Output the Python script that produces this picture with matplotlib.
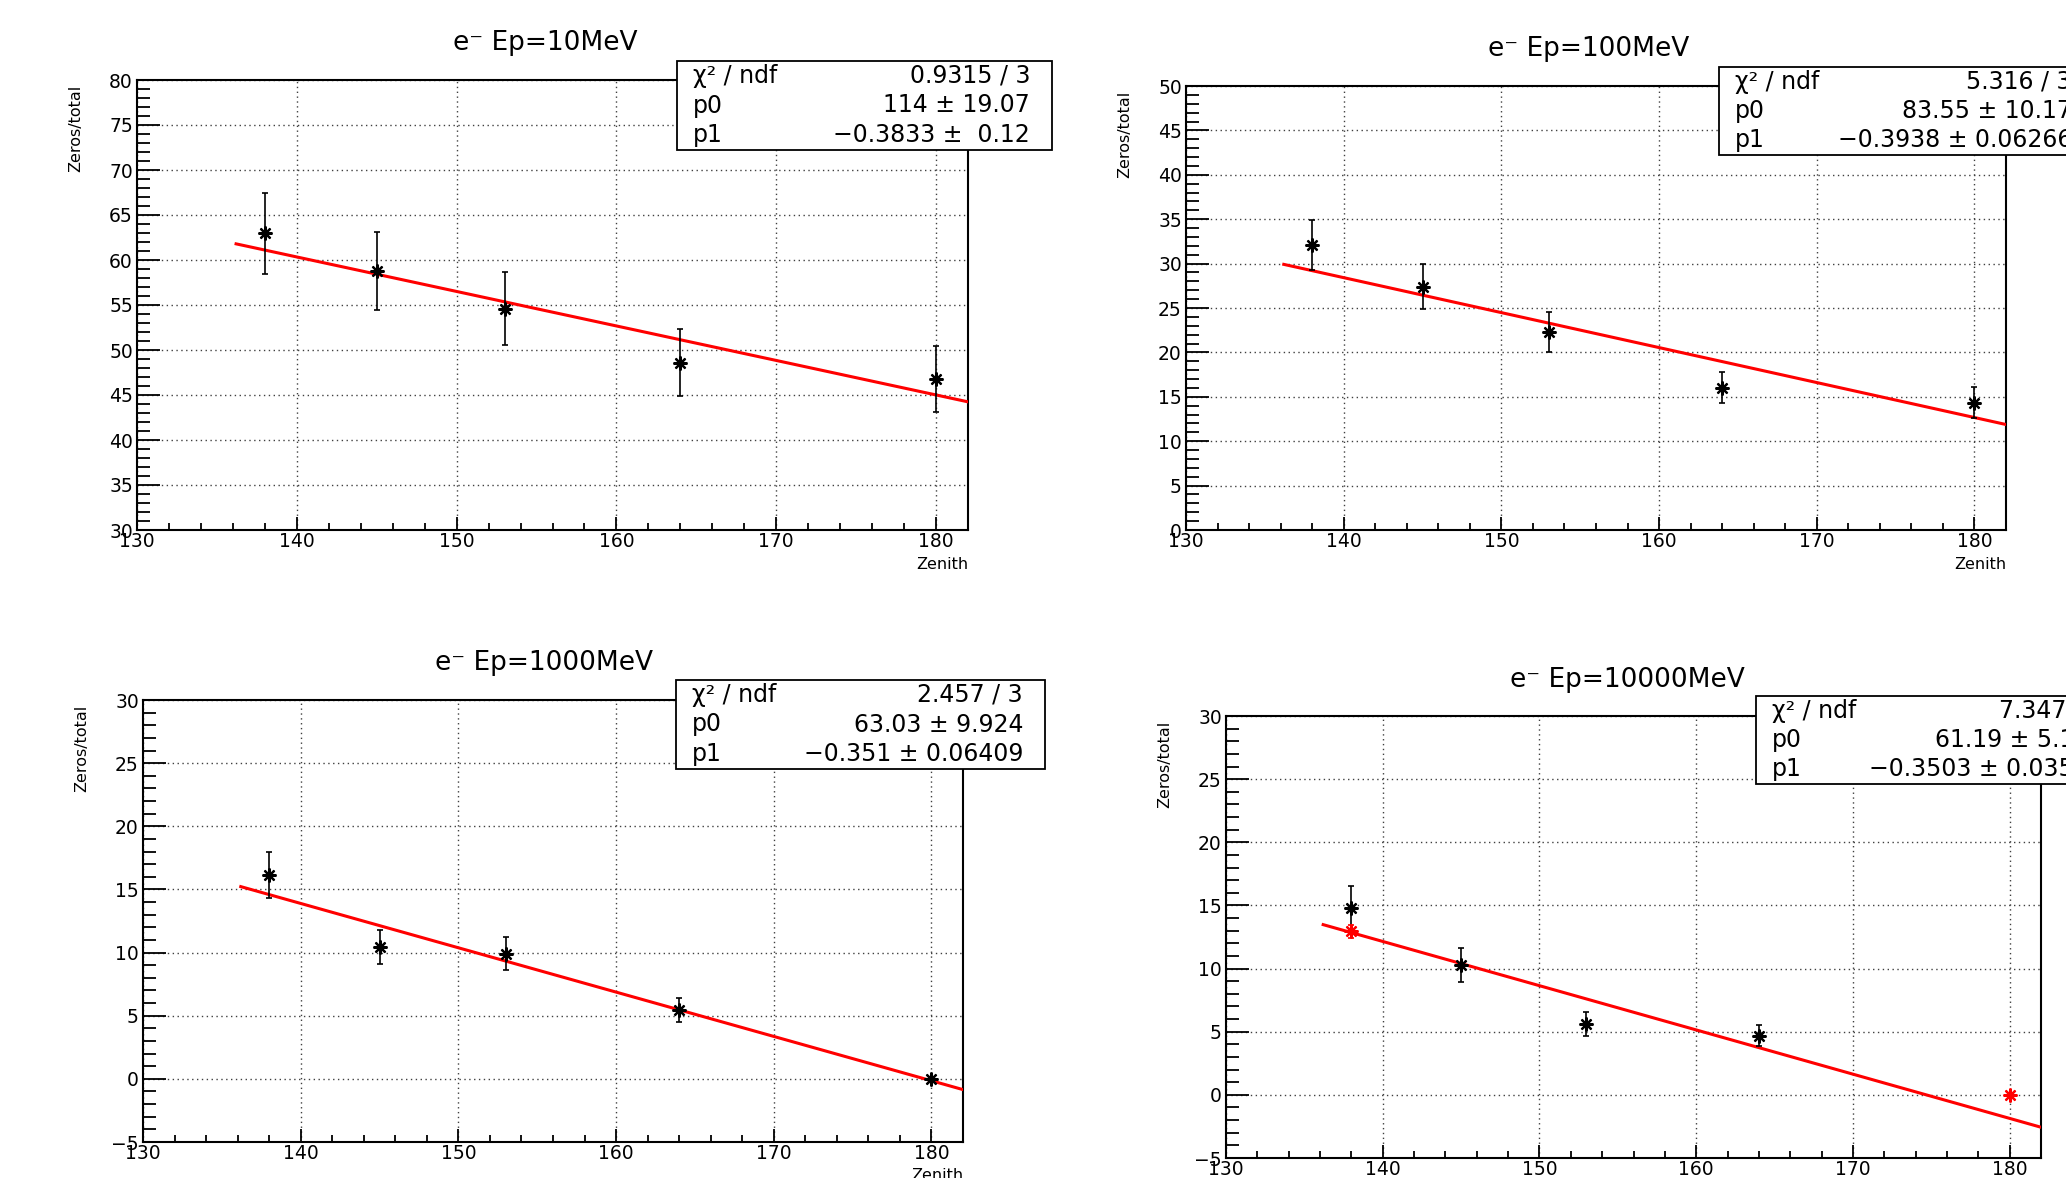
import matplotlib
matplotlib.use("Agg")
import matplotlib.pyplot as plt
from matplotlib.patches import Rectangle
from matplotlib.ticker import MultipleLocator

plt.rcParams['font.family'] = ['DejaVu Sans']

W, H = 2066, 1178

# ---- data ----
zenith = [138, 145, 153, 164, 180]

titles = ['e⁻ Ep=10MeV', 'e⁻ Ep=100MeV', 'e⁻ Ep=1000MeV', 'e⁻ Ep=10000MeV']

y_10 = [63.0, 58.8, 54.6, 48.6, 46.8]
err_10 = [4.5, 4.3, 4.05, 3.7, 3.7]

y_100 = [32.1, 27.4, 22.3, 16.0, 14.35]
err_100 = [2.85, 2.5, 2.2, 1.75, 1.7]

y_1000 = [16.15, 10.45, 9.9, 5.45, 0.0]
err_1000 = [1.8, 1.37, 1.3, 0.95, 0.0]

# 10000 MeV: black points plus two red points
zen_10000 = [138, 145, 153, 164]
y_10000 = [14.83, 10.3, 5.6, 4.7]
err_10000 = [1.7, 1.35, 0.97, 0.86]
zen_10000_red = [138, 180]
y_10000_red = [12.95, 0.0]
err_10000_red = [0.5, 0.0]

# fit results (p0 + p1 * x) and stats box rows
p0 = [114.0, 83.55, 63.03, 61.19]
p1 = [-0.3833, -0.3938, -0.351, -0.3503]
fit_range = (136.2, 182.0)

stats_rows = [
    ['0.9315 / 3', '114 ± 19.07', '−0.3833 ±  0.12'],
    ['5.316 / 3', '83.55 ± 10.17', '−0.3938 ± 0.06266'],
    ['2.457 / 3', '63.03 ± 9.924', '−0.351 ± 0.06409'],
    ['7.347 / 3', '61.19 ± 5.123', '−0.3503 ± 0.03537'],
]
stats_names = ['χ² / ndf', 'p0', 'p1']

ylims = [(30, 80), (0, 50), (-5, 30), (-5, 30)]

# ---- layout in pixels: axes [left, right, top, bottom] ----
axes_px = [(137, 968, 80, 530), (1186, 2006, 86, 530),
           (143, 963, 700, 1142), (1226, 2041, 716, 1158)]
title_px = [(545, 43), (1589, 49), (544, 663), (1627, 680)]
box_px = [(677, 1052, 61, 150), (1719, 2094, 67, 155),
          (676, 1045, 680, 769), (1756, 2126, 696, 784)]


def fx(x):
    return x / W


def fy(y):
    return 1 - y / H


fig = plt.figure(figsize=(W / 100, H / 100), dpi=100)

for i in range(4):
    l, r, t, b = axes_px[i]
    ax = fig.add_axes([fx(l), fy(b), (r - l) / W, (b - t) / H])

    ax.set_xlim(130, 182)
    ax.set_ylim(*ylims[i])
    ax.xaxis.set_major_locator(MultipleLocator(10))
    ax.xaxis.set_minor_locator(MultipleLocator(2))
    ax.yaxis.set_major_locator(MultipleLocator(5))
    ax.yaxis.set_minor_locator(MultipleLocator(1))

    ax.tick_params(direction='in', top=False, right=False, labelsize=13.5,
                   width=1.3, which='both')
    ax.tick_params(axis='y', which='major', length=16.5, pad=3)
    ax.tick_params(axis='y', which='minor', length=9.4)
    ax.tick_params(axis='x', which='major', length=9.4, pad=1.5)
    ax.tick_params(axis='x', which='minor', length=5)
    for s in ax.spines.values():
        s.set_linewidth(1.5)

    ax.grid(True, which='major', linestyle=(0, (1, 2.5)), color='0.25', lw=1.0)
    ax.set_axisbelow(True)

    # fit line
    fx0, fx1 = fit_range
    ax.plot([fx0, fx1], [p0[i] + p1[i] * fx0, p0[i] + p1[i] * fx1],
            color='#ff0000', lw=2.2, zorder=3)

    # data points
    if i == 0:
        xs, ys, es = zenith, y_10, err_10
    elif i == 1:
        xs, ys, es = zenith, y_100, err_100
    elif i == 2:
        xs, ys, es = zenith, y_1000, err_1000
    else:
        xs, ys, es = zen_10000, y_10000, err_10000

    ax.errorbar(xs, ys, yerr=es, fmt='none', ecolor='black', elinewidth=1.2,
                capsize=2.5, capthick=1.2, zorder=4)
    ax.plot(xs, ys, linestyle='none', marker=(8, 2, 0), ms=10,
            mec='black', mew=1.6, zorder=5)
    if i == 3:
        ax.errorbar(zen_10000_red, y_10000_red, yerr=err_10000_red, fmt='none',
                    ecolor='#ff0000', elinewidth=1.2, capsize=2.5,
                    capthick=1.2, zorder=4)
        ax.plot(zen_10000_red, y_10000_red, linestyle='none',
                marker=(8, 2, 0), ms=10, mec='#ff0000', mew=1.6, zorder=5)

    # titles and axis labels
    tx, ty = title_px[i]
    fig.text(fx(tx), fy(ty), titles[i], ha='center', va='center', fontsize=19)
    fig.text(fx(l - 61), fy(t + 5), 'Zeros/total', rotation=90,
             ha='center', va='top', fontsize=11.5)
    fig.text(fx(r), fy(b + 34), 'Zenith', ha='right', va='center',
             fontsize=11.5)

    # stats box
    bl, br, bt, bb = box_px[i]
    fig.add_artist(Rectangle((fx(bl), fy(bb)), (br - bl) / W, (bb - bt) / H,
                             transform=fig.transFigure, facecolor='white',
                             edgecolor='black', lw=1.3, zorder=6))
    row_h = (bb - bt) / 3
    for k in range(3):
        yy = bt + row_h * (k + 0.5)
        fig.text(fx(bl + 16), fy(yy), stats_names[k], ha='left', va='center',
                 fontsize=17, zorder=7)
        fig.text(fx(br - 22), fy(yy), stats_rows[i][k], ha='right',
                 va='center', fontsize=17, zorder=7)

fig.savefig('out.png', dpi=100)
